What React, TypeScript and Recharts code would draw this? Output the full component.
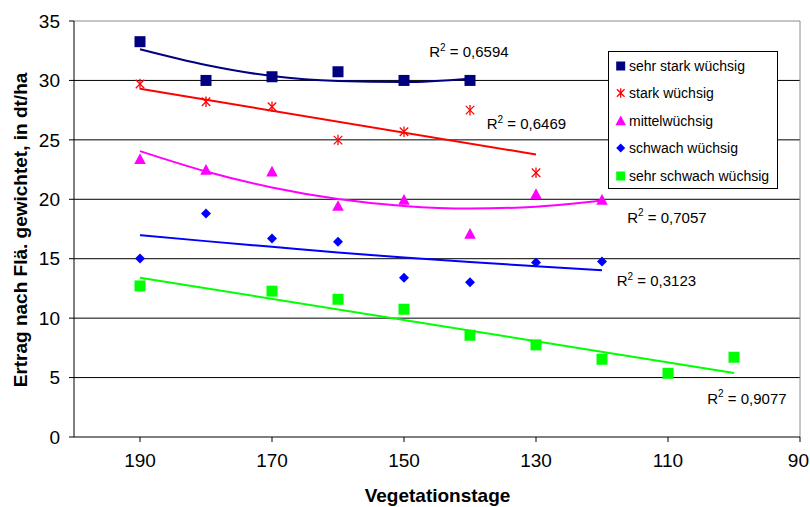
import React from 'react';
import {
  ComposedChart,
  XAxis,
  YAxis,
  CartesianGrid,
  Scatter,
  Line,
  Legend,
  ReferenceLine,
  ReferenceDot,
} from 'recharts';

const FONT = '"Liberation Sans", Arial, Helvetica, sans-serif';

// ---- axes ----
const xTicks = [190, 170, 150, 130, 110, 90];
const yTicks = [0, 5, 10, 15, 20, 25, 30, 35];
const gridValues = [5, 10, 15, 20, 25, 30];

// ---- series names / colours ----
const seriesNames = [
  'sehr stark wüchsig',
  'stark wüchsig',
  'mittelwüchsig',
  'schwach wüchsig',
  'sehr schwach wüchsig',
];
const seriesColors = ['#000080', '#FF0000', '#FF00FF', '#0000FF', '#00FF00'];
const seriesShapes = ['square', 'star', 'triangle', 'diamond', 'square'];

// ---- measured values ----
const sehrStarkX = [190, 180, 170, 160, 150, 140];
const sehrStarkY = [33.26, 30.0, 30.31, 30.73, 30.0, 30.0];

const starkX = [190, 180, 170, 160, 150, 140, 130];
const starkY = [29.7, 28.2, 27.78, 24.98, 25.68, 27.5, 22.23];

const mittelX = [190, 180, 170, 160, 150, 140, 130, 120];
const mittelY = [23.36, 22.46, 22.31, 19.42, 19.93, 17.07, 20.41, 19.93];

const schwachX = [190, 180, 170, 160, 150, 140, 130, 120];
const schwachY = [15.02, 18.81, 16.7, 16.42, 13.39, 13.03, 14.68, 14.77];

const sehrSchwachX = [190, 170, 160, 150, 140, 130, 120, 110, 100];
const sehrSchwachY = [12.71, 12.27, 11.59, 10.75, 8.56, 7.75, 6.54, 5.36, 6.71];

// ---- trendlines ----
const trendSehrStarkX = [190, 180, 170, 160, 150, 140];
const trendSehrStarkY = [32.62, 31.3, 30.37, 29.95, 29.86, 30.15];

const trendStarkX = [190, 130];
const trendStarkY = [29.3, 23.77];

const trendMittelX = [190, 180, 170, 160, 150, 140, 130, 120];
const trendMittelY = [24.05, 22.34, 21.0, 20.03, 19.44, 19.22, 19.38, 19.9];

const trendSchwachX = [190, 180, 170, 160, 150, 140, 130, 120];
const trendSchwachY = [16.98, 16.48, 16.0, 15.52, 15.1, 14.72, 14.37, 14.03];

const trendSehrSchwachX = [190, 100];
const trendSehrSchwachY = [13.4, 5.39];

// ---- R² annotations ----
const r2Texts = ['0,6594', '0,6469', '0,7057', '0,3123', '0,9077'];
const r2X = [146.17, 137.47, 116.17, 117.77, 104.05];
const r2Y = [31.94, 25.88, 18.02, 12.69, 2.81];

const zip = (xs: number[], ys: number[]) => xs.map((x, i) => ({ x, y: ys[i] }));

const pointSets = [
  zip(sehrStarkX, sehrStarkY),
  zip(starkX, starkY),
  zip(mittelX, mittelY),
  zip(schwachX, schwachY),
  zip(sehrSchwachX, sehrSchwachY),
];
const trendSets = [
  zip(trendSehrStarkX, trendSehrStarkY),
  zip(trendStarkX, trendStarkY),
  zip(trendMittelX, trendMittelY),
  zip(trendSchwachX, trendSchwachY),
  zip(trendSehrSchwachX, trendSehrSchwachY),
];

function marker(kind: string, color: string, cx: number, cy: number, s: number) {
  const h = s / 2;
  switch (kind) {
    case 'square':
      return <rect x={cx - h} y={cy - h} width={s} height={s} fill={color} />;
    case 'star':
      return (
        <g stroke={color} strokeWidth={1.3}>
          <line x1={cx - h * 0.85} y1={cy - h * 0.85} x2={cx + h * 0.85} y2={cy + h * 0.85} />
          <line x1={cx - h * 0.85} y1={cy + h * 0.85} x2={cx + h * 0.85} y2={cy - h * 0.85} />
          <line x1={cx} y1={cy - h * 1.05} x2={cx} y2={cy + h * 1.05} />
        </g>
      );
    case 'triangle':
      return (
        <polygon
          points={`${cx},${cy - h * 1.1} ${cx - h * 1.05},${cy + h * 0.85} ${cx + h * 1.05},${cy + h * 0.85}`}
          fill={color}
        />
      );
    case 'diamond':
      return (
        <polygon
          points={`${cx},${cy - h} ${cx + h},${cy} ${cx},${cy + h} ${cx - h},${cy}`}
          fill={color}
        />
      );
    default:
      return null;
  }
}

const markerSizes = [11, 10, 11, 10, 11];
const legendSizes = [9, 9, 10, 9, 9];

const makeShape = (i: number) => (props: any) => {
  const { cx, cy } = props;
  if (cx == null || cy == null) return <g />;
  return marker(seriesShapes[i], seriesColors[i], cx, cy, markerSizes[i]);
};

const LegendBox = () => (
  <div
    style={{
      width: 170,
      height: 138,
      border: '1px solid #000',
      background: '#fff',
      boxSizing: 'border-box',
      position: 'relative',
      fontFamily: FONT,
      fontSize: 14,
      color: '#000',
    }}
  >
    {seriesNames.map((n, i) => (
      <div
        key={n}
        style={{
          position: 'absolute',
          left: 0,
          top: 13.7 + 27.5 * i - 10,
          height: 20,
          display: 'flex',
          alignItems: 'center',
          whiteSpace: 'nowrap',
        }}
      >
        <svg width={20} height={20} style={{ display: 'block' }}>
          {marker(seriesShapes[i], seriesColors[i], 11.7, 10, legendSizes[i])}
        </svg>
        <span style={{ lineHeight: '20px' }}>{n}</span>
      </div>
    ))}
  </div>
);

const r2Shape = (i: number) => (props: any) => {
  const { cx, cy } = props;
  return (
    <text x={cx} y={cy} fontFamily={FONT} fontSize={15} fill="#000" textAnchor="start">
      <tspan>R</tspan>
      <tspan fontSize={10} dy={-6.5}>2</tspan>
      <tspan dy={6.5}>{` = ${r2Texts[i]}`}</tspan>
    </text>
  );
};

const XTick = (props: any) => {
  const { x, y, payload, index } = props;
  const isLast = payload && payload.value === 90;
  return (
    <text
      x={isLast ? Math.min(x, 809.5) : x}
      y={y}
      dy="0.71em"
      textAnchor={isLast ? 'end' : 'middle'}
      dx={isLast ? 10.5 - 1.5 : 0}
      fontFamily={FONT}
      fontSize={19}
      fill="#000"
      key={index}
    >
      {payload.value}
    </text>
  );
};

export default function App() {
  return (
    <div style={{ position: 'absolute', left: 0, top: 0, width: 810, height: 507, background: '#fff' }}>
      <ComposedChart
        width={810}
        height={507}
        margin={{ top: 21, right: 10, bottom: 0, left: 0 }}
        style={{ fontFamily: FONT }}
      >
        <CartesianGrid
          horizontal={true}
          vertical={false}
          stroke="#000"
          strokeOpacity={1}
          horizontalValues={gridValues}
        />
        <XAxis
          type="number"
          dataKey="x"
          domain={[90, 200]}
          reversed
          ticks={xTicks}
          interval={0}
          allowDataOverflow
          height={70}
          stroke="#000"
          tickSize={5}
          tickMargin={12}
          tick={<XTick />}
          axisLine={{ stroke: '#000' }}
          tickLine={{ stroke: '#000' }}
          label={{
            content: () => (
              <text x={437.5} y={501.5} textAnchor="middle" fontFamily={FONT} fontSize={19} fontWeight="bold" fill="#000">
                Vegetationstage
              </text>
            ),
          }}
        />
        <YAxis
          type="number"
          dataKey="y"
          domain={[0, 35]}
          ticks={yTicks}
          interval={0}
          allowDataOverflow
          width={74}
          stroke="#000"
          tickSize={5}
          tickMargin={9}
          tick={{ fill: '#000', fontSize: 19, fontFamily: FONT }}
          axisLine={{ stroke: '#000' }}
          tickLine={{ stroke: '#000' }}
          label={{
            content: () => (
              <text
                transform="translate(20.5,230) rotate(-90)"
                textAnchor="middle"
                dominantBaseline="central"
                fontFamily={FONT}
                fontSize={19}
                fontWeight="bold"
                fill="#000"
              >
                Ertrag nach Flä. gewichtet, in dt/ha
              </text>
            ),
          }}
        />
        <ReferenceLine y={35} stroke="#8c8c8c" strokeWidth={1} ifOverflow="visible" />
        <ReferenceLine x={90} stroke="#8c8c8c" strokeWidth={1} ifOverflow="visible" />

        {trendSets.map((d, i) => (
          <Line
            key={'t' + i}
            data={d}
            dataKey="y"
            type="monotone"
            stroke={seriesColors[i]}
            strokeWidth={2}
            dot={false}
            activeDot={false}
            legendType="none"
            isAnimationActive={false}
          />
        ))}

        {pointSets.map((d, i) => (
          <Scatter
            key={'s' + i}
            name={seriesNames[i]}
            data={d}
            dataKey="y"
            fill={seriesColors[i]}
            shape={makeShape(i)}
            isAnimationActive={false}
          />
        ))}

        {r2Texts.map((t, i) => (
          <ReferenceDot
            key={'r' + t}
            x={r2X[i]}
            y={r2Y[i]}
            r={0}
            ifOverflow="visible"
            shape={r2Shape(i)}
          />
        ))}

        <Legend
          layout="vertical"
          align="center"
          verticalAlign="middle"
          content={() => <LegendBox />}
          wrapperStyle={{ position: 'absolute', left: 608, top: 51, width: 170, height: 138 }}
        />
      </ComposedChart>
    </div>
  );
}
